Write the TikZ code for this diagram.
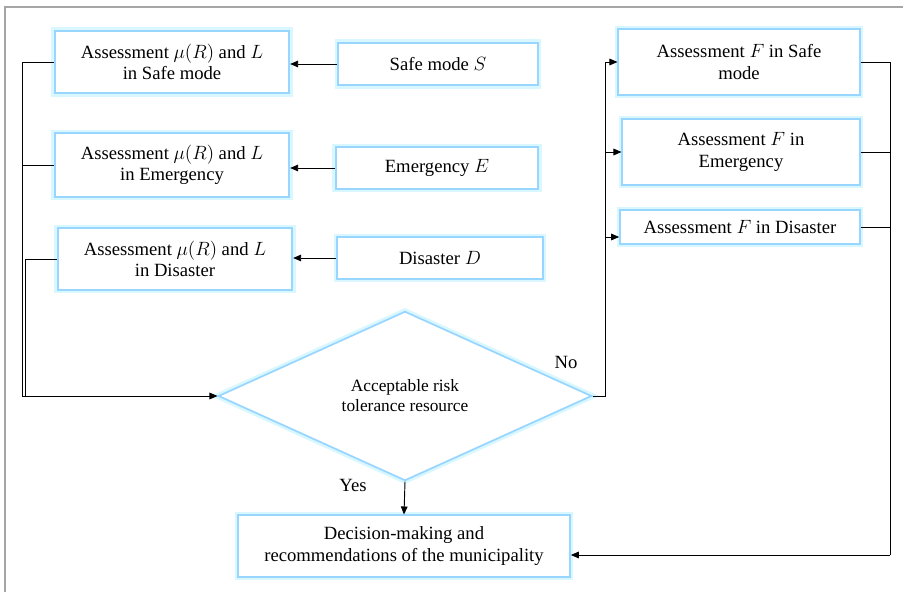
\documentclass[tikz,border=0pt]{standalone}
\usepackage{fontspec}
\setmainfont{Liberation Serif}
\usetikzlibrary{shapes.geometric,arrows.meta}
\begin{document}
\begin{tikzpicture}[x=0.75pt,y=-0.75pt,
  glow/.style={draw=blue!40!cyan!40, line width=1.3pt, fill=white,
    preaction={draw=blue!22!cyan!15, line width=5pt}},
  gbox/.style={glow, rectangle, align=center, inner sep=0pt, font=\fontsize{14}{16}\selectfont},
  conn/.style={draw=black, line width=0.7pt},
  arr/.style={conn, -{Triangle[length=6pt,width=5pt]}},
  lab/.style={font=\fontsize{14}{16}\selectfont}]
\useasboundingbox (0,0) rectangle (903,592);
\draw[gray!70, line width=0.8pt] (5,592) -- (5,7) -- (903,7);

\node[gbox, minimum width=176pt, minimum height=47pt] (a1) at (172,62) {Assessment $\mu(R)$ and $L$\\in Safe mode};
\node[gbox, minimum width=150pt, minimum height=32pt] (s) at (438,64) {Safe mode $S$};
\node[gbox, minimum width=176pt, minimum height=48pt] (a2) at (172,165) {Assessment $\mu(R)$ and $L$\\in Emergency};
\node[gbox, minimum width=152pt, minimum height=31pt] (e) at (437,168) {Emergency $E$};
\node[gbox, minimum width=176pt, minimum height=46pt] (a3) at (175,259) {Assessment $\mu(R)$ and $L$\\in Disaster};
\node[gbox, minimum width=154pt, minimum height=31pt] (d) at (440,258) {Disaster $D$};

\node[gbox, minimum width=181pt, minimum height=49pt] (f1) at (739,62) {Assessment $F$ in Safe\\mode};
\node[gbox, minimum width=178pt, minimum height=49pt] (f2) at (741,152) {Assessment $F$ in\\Emergency};
\node[gbox, minimum width=180pt, minimum height=25pt] (f3) at (740,227) {Assessment $F$ in Disaster};

\node[glow, diamond, minimum width=280pt, minimum height=127pt, inner sep=0pt, align=center,
  font=\fontsize{13}{15}\selectfont] (q) at (405,396) {Acceptable risk\\tolerance resource};

\node[gbox, minimum width=249pt, minimum height=46pt] (dec) at (404,546) {Decision-making and\\recommendations of the municipality};

% inputs
\draw[arr] (s.west) -- (a1.east |- s.west);
\draw[arr] (e.west) -- (a2.east |- e.west);
\draw[arr] (d.west) -- (a3.east |- d.west);

% left collectors
\coordinate (l1) at (22,62);
\coordinate (l2) at (22,165);
\coordinate (l3) at (25,259);
\coordinate (lb) at (22,396);
\draw[conn] (a1.west) -- (l1) -- (lb);
\draw[conn] (a2.west) -- (l2);
\draw[conn] (a3.west) -- (l3) -- (25,396);
\draw[arr] (lb) -- (q.west);

% No branch
\coordinate (r0) at (605,396);
\draw[conn] (q.east) -- (r0) -- (605,62);
\draw[arr] (605,62) -- (f1.west);
\draw[arr] (605,152) -- (f2.west);
\draw[arr] (605,237) -- (f3.west |- 605,237);
\node[lab] (no) at (566,362) {No};

% right collectors
\coordinate (rt) at (890,62);
\coordinate (rb) at (890,555);
\draw[conn] (f1.east) -- (rt) -- (rb);
\draw[conn] (f2.east) -- (890,152);
\draw[conn] (f3.east) -- (890,227);
\draw[arr] (rb) -- (dec.east |- rb);

% Yes branch
\draw[arr] (q.south) -- (dec.north);
\node[lab] (yes) at (353,485) {Yes};
\end{tikzpicture}
\end{document}
